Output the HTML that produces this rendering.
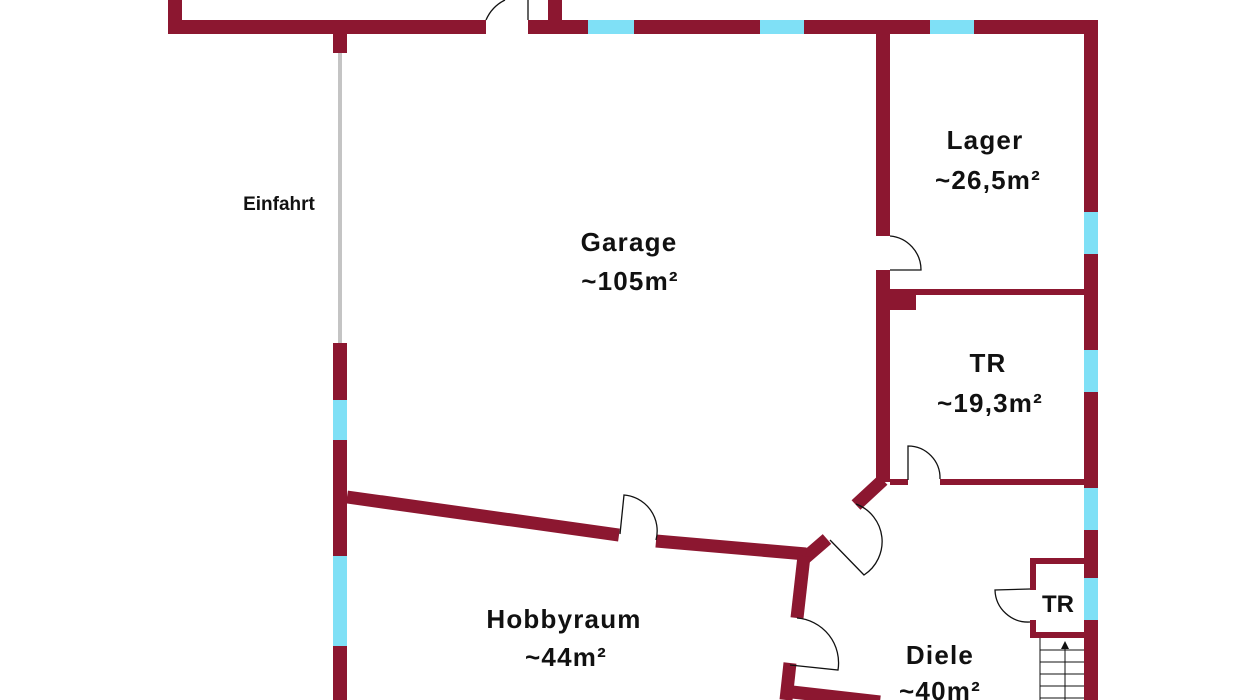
<!DOCTYPE html>
<html><head><meta charset="utf-8"><style>
html,body{margin:0;padding:0;background:#fff;}
svg{display:block;}
text{font-family:"Liberation Sans",sans-serif;font-weight:bold;fill:#111;text-anchor:middle;}
.r{font-size:26px;letter-spacing:1.2px;}
</style></head><body>
<svg width="1236" height="700" viewBox="0 0 1236 700" xmlns="http://www.w3.org/2000/svg">
<g fill="#8c1730">
<rect x="168" y="0" width="14" height="34"/>
<rect x="168" y="20" width="318" height="14"/>
<rect x="548" y="0" width="14" height="34"/>
<rect x="528" y="20" width="570" height="14"/>
<rect x="333" y="34" width="14" height="19"/>
<rect x="333" y="343" width="14" height="357"/>
<rect x="1084" y="20" width="14" height="680"/>
<rect x="876" y="34" width="14" height="202"/>
<rect x="876" y="270" width="14" height="212"/>
<rect x="890" y="289" width="194" height="6"/>
<rect x="876" y="290" width="40" height="20"/>
<rect x="890" y="479" width="18" height="6"/>
<rect x="940" y="479" width="144" height="6"/>
<rect x="1030" y="558" width="54" height="6"/>
<rect x="1030" y="558" width="6" height="32"/>
<rect x="1030" y="620" width="6" height="18"/>
<rect x="1030" y="632" width="54" height="6"/>
</g>
<g stroke="#8c1730" stroke-width="13" fill="none" stroke-linecap="butt">
<line x1="883" y1="480" x2="856" y2="505"/>
<line x1="827" y1="539" x2="805" y2="558"/>
<line x1="347" y1="497" x2="619" y2="535"/>
<line x1="656" y1="541" x2="806" y2="554"/>
<line x1="804" y1="556" x2="797" y2="618"/>
<line x1="790" y1="663" x2="786" y2="700"/>
<line x1="792" y1="692" x2="880" y2="702"/>
</g>
<g fill="#7fe0f6">
<rect x="588" y="20" width="46" height="14"/>
<rect x="760" y="20" width="44" height="14"/>
<rect x="930" y="20" width="44" height="14"/>
<rect x="333" y="400" width="14" height="40"/>
<rect x="333" y="556" width="14" height="90"/>
<rect x="1084" y="212" width="14" height="42"/>
<rect x="1084" y="350" width="14" height="42"/>
<rect x="1084" y="488" width="14" height="42"/>
<rect x="1084" y="578" width="14" height="42"/>
</g>
<line x1="340" y1="53" x2="340" y2="343" stroke="#c4c4c4" stroke-width="4"/>
<g stroke="#111" stroke-width="1.3" fill="none">
<path d="M486 20 A40 40 0 0 1 505 0"/>
<line x1="528" y1="0" x2="528" y2="20"/>
<path d="M890 236 A34 34 0 0 1 921 270 L890 270"/>
<path d="M908 480 L908 446 A32 32 0 0 1 940 479"/>
<path d="M620 534 L624 495 A36 36 0 0 1 656 540"/>
<path d="M856 504 A40 40 0 0 1 864 575 L830 540"/>
<path d="M797 618 A45 45 0 0 1 838 670 L790 665"/>
<path d="M1030 589 L995 590 A33 33 0 0 0 1030 622"/>
</g>
<g stroke="#111" stroke-width="1" fill="none">
<line x1="1040" y1="638" x2="1040" y2="700"/>
<line x1="1040" y1="650" x2="1084" y2="650"/>
<line x1="1040" y1="662" x2="1084" y2="662"/>
<line x1="1040" y1="674" x2="1084" y2="674"/>
<line x1="1040" y1="686" x2="1084" y2="686"/>
<line x1="1040" y1="698" x2="1084" y2="698"/>
<line x1="1065" y1="700" x2="1065" y2="645"/>
</g>
<path d="M1065 641 L1061 649 L1069 649 Z" fill="#111"/>
<text x="279" y="210" font-size="19">Einfahrt</text>
<text class="r" x="985" y="149">Lager</text>
<text class="r" x="988" y="189">~26,5m²</text>
<text class="r" x="629" y="251">Garage</text>
<text class="r" x="630" y="290">~105m²</text>
<text class="r" x="988" y="372">TR</text>
<text class="r" x="990" y="412">~19,3m²</text>
<text class="r" x="564" y="628">Hobbyraum</text>
<text class="r" x="566" y="666">~44m²</text>
<text class="r" x="940" y="664">Diele</text>
<text class="r" x="940" y="700">~40m²</text>
<text x="1058" y="612" font-size="24">TR</text>
</svg>
</body></html>
